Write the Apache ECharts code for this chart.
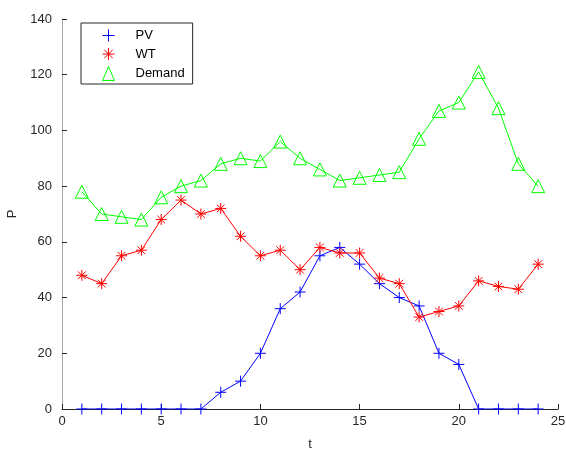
<!DOCTYPE html>
<html>
<head>
<meta charset="utf-8">
<script src="https://cdn.jsdelivr.net/npm/echarts@6/dist/echarts.min.js"></script>
<style>
  html, body { margin: 0; padding: 0; background: #fff; }
  #chart { width: 566px; height: 452px; }
</style>
</head>
<body>
<div id="chart"></div>
<script>
// 时间 (小时)
var hours = [1, 2, 3, 4, 5, 6, 7, 8, 9, 10, 11, 12, 13, 14, 15, 16, 17, 18, 19, 20, 21, 22, 23, 24]
// 光伏
var pvValues = [0, 0, 0, 0, 0, 0, 0, 6, 10, 20, 36, 42, 55, 58, 52, 45, 40, 37, 20, 16, 0, 0, 0, 0]
// 风电
var wtValues = [48, 45, 55, 57, 68, 75, 70, 72, 62, 55, 57, 50, 58, 56, 56, 47, 45, 33, 35, 37, 46, 44, 43, 52]
// 负荷
var demandValues = [78, 70, 69, 68, 76, 80, 82, 88, 90, 89, 96, 90, 86, 82, 83, 84, 85, 97, 107, 110, 121, 108, 88, 80]

var xTicks = { min: 0, max: 25, interval: 5 }
var yTicks = { min: 0, max: 140, interval: 20 }

var plusPath = 'path://M0,5L10,5M5,0L5,10'
var starPath = 'path://M0,5L10,5M5,0L5,10M1.5,1.5L8.5,8.5M1.5,8.5L8.5,1.5'
var axisColor = '#262626'
var font = 'Liberation Sans, Arial, Helvetica, sans-serif'

function pairs(values) {
  return hours.map(function(h, i) { return [h, values[i]] })
}

function makeSeries(name, values, color, symbol, size) {
  return {
    name: name,
    type: 'line',
    data: pairs(values),
    symbol: symbol,
    symbolSize: size,
    showAllSymbol: true,
    animation: false,
    lineStyle: { color: color, width: 1 },
    itemStyle: { color: 'transparent', borderColor: color, borderWidth: 1 },
    emphasis: { disabled: true }
  }
}

var chart = echarts.init(document.getElementById('chart'))
chart.setOption({
  backgroundColor: '#fff',
  animation: false,
  grid: { left: 62, right: 8, top: 19, bottom: 43, containLabel: false, outerBoundsMode: 'none' },
  legend: {
    orient: 'vertical',
    left: 81,
    top: 23,
    padding: [6, 8, 3, 21],
    itemWidth: 12,
    itemHeight: 14,
    itemGap: 5.5,
    borderColor: axisColor,
    borderWidth: 1,
    itemStyle: { borderWidth: 1 },
    textStyle: { fontFamily: font, fontSize: 13, color: '#000', padding: [0, 0, 0, 16] },
    data: [
      { name: 'PV', icon: plusPath },
      { name: 'WT', icon: starPath },
      { name: 'Demand', icon: 'triangle' }
    ]
  },
  xAxis: {
    type: 'value',
    min: xTicks.min,
    max: xTicks.max,
    interval: xTicks.interval,
    name: 't',
    nameLocation: 'middle',
    nameGap: 29,
    nameTextStyle: { fontFamily: font, fontSize: 13, color: axisColor },
    axisLine: { show: true, lineStyle: { color: axisColor, width: 1 } },
    axisTick: { show: true, inside: true, length: 5, lineStyle: { color: axisColor } },
    axisLabel: { fontFamily: font, fontSize: 13, color: axisColor, margin: 6 },
    splitLine: { show: false }
  },
  yAxis: {
    type: 'value',
    min: yTicks.min,
    max: yTicks.max,
    interval: yTicks.interval,
    name: 'P',
    nameLocation: 'middle',
    nameGap: 38,
    nameTextStyle: { fontFamily: font, fontSize: 13, color: axisColor },
    axisLine: { show: true, lineStyle: { color: '#a6a6a6', width: 1 } },
    axisTick: { show: true, inside: true, length: 5, lineStyle: { color: axisColor } },
    axisLabel: { fontFamily: font, fontSize: 13, color: axisColor, margin: 10 },
    splitLine: { show: false }
  },
  series: [
    makeSeries('PV', pvValues, '#0000ff', plusPath, 11),
    makeSeries('WT', wtValues, '#ff0000', starPath, 11),
    makeSeries('Demand', demandValues, '#00ff00', 'triangle', 13)
  ]
})
</script>
</body>
</html>
